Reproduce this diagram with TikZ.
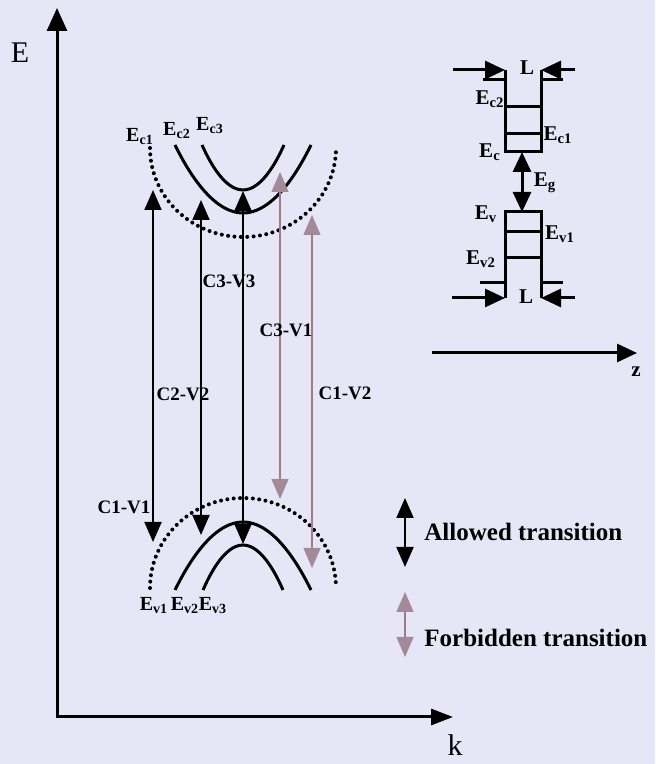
\documentclass[tikz,border=0pt]{standalone}
\usepackage{fontspec}
\setmainfont{Liberation Serif}
\usetikzlibrary{arrows.meta}
\definecolor{pagebg}{RGB}{231,230,247}
\definecolor{forbid}{RGB}{162,138,152}
\definecolor{forbidline}{RGB}{150,128,136}

\begin{document}
\begin{tikzpicture}[x=0.5pt, y=0.5pt,
    every node/.style={inner sep=0pt},
    axis/.style={line width=1.5pt, line join=miter},
    band/.style={line width=1.5pt},
    dotband/.style={line width=2pt, line cap=round, dash pattern=on 0pt off 3.2pt},
    allowed/.style={line width=1pt,
                    {Triangle[length=10pt,width=8.5pt]}-{Triangle[length=10pt,width=8.5pt]}},
    forbidden/.style={line width=0.6pt, draw=forbidline,
                    {Triangle[length=10pt,width=8.5pt,color=forbid]}-{Triangle[length=10pt,width=8.5pt,color=forbid]}},
    well/.style={line width=1.5pt},
    wellarr/.style={line width=1.5pt, -{Triangle[length=10pt,width=9pt]}},
    axlbl/.style={font=\fontsize{15}{17}\selectfont},
    trlbl/.style={font=\fontsize{9.5}{11}\selectfont\bfseries},
    lvl/.style={font=\fontsize{10}{12}\selectfont\bfseries},
    wlvl/.style={font=\fontsize{10.5}{12}\selectfont\bfseries},
    leg/.style={font=\fontsize{12.5}{14}\selectfont\bfseries, anchor=west},
  ]
    \useasboundingbox[fill=pagebg] (0,0) rectangle (655,764);

    % axes
    \coordinate (O)    at (57,47);
    \coordinate (Etip) at (57,756);
    \coordinate (ktip) at (453,47);
    \draw[axis, {Triangle[length=11.5pt,width=10pt]}-{Triangle[length=11pt,width=8pt]}]
      (Etip) -- (O) -- (ktip);
    \node[axlbl] (Elbl) at (20,711) {E};
    \node[axlbl] (klbl) at (455,19)  {k};

    % conduction and valence subbands
    \draw[dotband] (150,616) arc[start angle=180, end angle=360, x radius=93, y radius=89];
    \draw[band] (175,619) parabola bend (243,551) (311,619);
    \draw[band] (202,619) parabola bend (243,574) (284,619);
    \draw[dotband] (150,176) arc[start angle=180, end angle=0, x radius=93, y radius=90];
    \draw[band] (175,174) parabola bend (243,242) (311,174);
    \draw[band] (203,174) parabola bend (243,219) (283,174);

    \node[lvl] (ec1) at (140,627) {E\textsubscript{c1}};
    \node[lvl] (ec2) at (177,633) {E\textsubscript{c2}};
    \node[lvl] (ec3) at (210,638) {E\textsubscript{c3}};
    \node[lvl] (ev1) at (154,158) {E\textsubscript{v1}};
    \node[lvl] (ev2) at (185,158) {E\textsubscript{v2}};
    \node[lvl] (ev3) at (213,158) {E\textsubscript{v3}};

    % transitions
    \coordinate (c1v1-c) at (153,574);  \coordinate (c1v1-v) at (153,222);
    \coordinate (c2v2-c) at (201,564);  \coordinate (c2v2-v) at (201,229);
    \coordinate (c3v3-c) at (243,573);  \coordinate (c3v3-v) at (243,220);
    \coordinate (c3v1-c) at (280,592);  \coordinate (c3v1-v) at (280,265);
    \coordinate (c1v2-c) at (312,549);  \coordinate (c1v2-v) at (312,196);
    \draw[allowed]   (c1v1-v) -- (c1v1-c);
    \draw[allowed]   (c2v2-v) -- (c2v2-c);
    \draw[allowed]   (c3v3-v) -- (c3v3-c);
    \draw[forbidden] (c3v1-v) -- (c3v1-c);
    \draw[forbidden] (c1v2-v) -- (c1v2-c);

    \node[trlbl] (l33) at (229,483) {C3-V3};
    \node[trlbl] (l31) at (286,434) {C3-V1};
    \node[trlbl] (l22) at (183,370) {C2-V2};
    \node[trlbl] (l12) at (345,371) {C1-V2};
    \node[trlbl] (l11) at (124,257) {C1-V1};

    % quantum well inset
    \draw[well] (505,694) -- (505,612) -- (541,612) -- (541,694);
    \draw[well] (483,684) -- (505,684);
    \draw[well] (541,684) -- (563,684);
    \draw[well] (505,657) -- (541,657);
    \draw[well] (505,630) -- (541,630);
    \draw[well] (505,466) -- (505,552) -- (541,552) -- (541,466);
    \draw[well] (480,481) -- (505,481);
    \draw[well] (541,481) -- (563,481);
    \draw[well] (505,532) -- (541,532);
    \draw[well] (505,506) -- (541,506);

    \coordinate (Lt-l) at (453,694);  \coordinate (Lt-r) at (575,694);
    \coordinate (Lb-l) at (452,466);  \coordinate (Lb-r) at (575,466);
    \draw[wellarr] (Lt-l) -- (505,694);
    \draw[wellarr] (Lt-r) -- (541,694);
    \draw[wellarr] (Lb-l) -- (505,466);
    \draw[wellarr] (Lb-r) -- (541,466);
    \node[wlvl] (Ltop) at (527,696) {L};
    \node[wlvl] (Lbot) at (526,467) {L};

    \coordinate (Ecb) at (522,612);
    \coordinate (Evt) at (522,552);
    \draw[well, {Triangle[length=10pt,width=9pt]}-{Triangle[length=10pt,width=9pt]}] (Ecb) -- (Evt);

    \node[wlvl] (wEc2) at (490,665) {E\textsubscript{c2}};
    \node[wlvl] (wEc1) at (558,629) {E\textsubscript{c1}};
    \node[wlvl] (wEc)  at (490,612) {E\textsubscript{c}};
    \node[wlvl] (wEg)  at (545,581) {E\textsubscript{g}};
    \node[wlvl] (wEv)  at (486,550) {E\textsubscript{v}};
    \node[wlvl] (wEv1) at (560,530) {E\textsubscript{v1}};
    \node[wlvl] (wEv2) at (481,505) {E\textsubscript{v2}};

    \coordinate (z0)   at (432,411);
    \coordinate (ztip) at (637,411);
    \draw[wellarr] (z0) -- (ztip);
    \node[wlvl] (zlbl) at (636,392) {z};

    % legend
    \coordinate (alw-t) at (405,266);  \coordinate (alw-b) at (405,197);
    \coordinate (frb-t) at (405,172);  \coordinate (frb-b) at (405,107);
    \draw[allowed]   (alw-b) -- (alw-t);
    \draw[forbidden] (frb-b) -- (frb-t);
    \node[leg] (alwtxt) at (424,232) {Allowed transition};
    \node[leg] (frbtxt) at (424,126) {Forbidden transition};
  \end{tikzpicture}
\end{document}
